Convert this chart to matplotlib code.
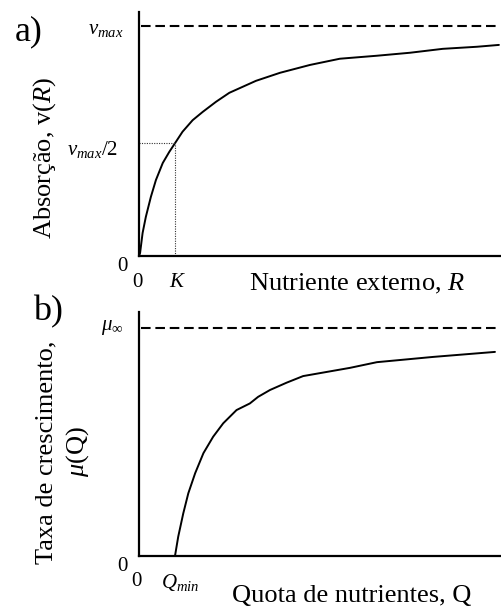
import numpy as np
import matplotlib
matplotlib.use("Agg")
import matplotlib.pyplot as plt

plt.rcParams['font.family'] = ['Liberation Serif', 'DejaVu Serif']
plt.rcParams['mathtext.fontset'] = 'custom'
plt.rcParams['mathtext.rm'] = 'Liberation Serif'
plt.rcParams['mathtext.it'] = 'Liberation Serif:italic'
plt.rcParams['mathtext.fallback'] = 'stix'

# a) uptake vs external nutrient (K = 1, vmax = 1)
R_vals = [0, 0.03, 0.10, 0.19, 0.33, 0.47, 0.66, 0.84, 1.0, 1.21, 1.49, 1.77,
          2.14, 2.51, 2.88, 3.25, 3.92, 4.75, 5.58, 6.61, 7.53, 8.44, 9.39, 10.0]
v_vals = [0, 0.013, 0.10, 0.17, 0.257, 0.33, 0.404, 0.452, 0.49, 0.54, 0.59, 0.626,
          0.67, 0.709, 0.735, 0.761, 0.796, 0.83, 0.857, 0.87, 0.883, 0.90, 0.909, 0.917]
K_val = 1.0
v_at_K = 0.49

# b) growth rate vs nutrient quota (Qmin = 1, mu_inf = 1)
Q_vals = [1.0, 1.09, 1.23, 1.37, 1.56, 1.79, 2.06, 2.34, 2.71, 3.08, 3.31, 3.64,
          4.10, 4.56, 5.86, 6.61, 8.17, 9.89]
mu_vals = [0, 0.085, 0.187, 0.275, 0.363, 0.451, 0.523, 0.582, 0.64, 0.669, 0.698, 0.728,
           0.76, 0.789, 0.825, 0.85, 0.873, 0.895]
Qmin_val = 1.0

W, H = 502, 610
fig = plt.figure(figsize=(W / 100, H / 100), dpi=100)

def px_ax(left, top, right, bottom):
    return fig.add_axes([left / W, 1 - bottom / H, (right - left) / W, (bottom - top) / H])

ax_a = px_ax(139, 12, 500, 256)
ax_b = px_ax(139, 312, 500, 556)

dash = (0, (4.6, 2.3))
for ax in (ax_a, ax_b):
    ax.set_xlim(0, 10.03)
    ax.set_xticks([])
    ax.set_yticks([])
    for s in ('top', 'right'):
        ax.spines[s].set_visible(False)
    for s in ('left', 'bottom'):
        ax.spines[s].set_linewidth(1.6)
        ax.spines[s].set_color('black')

ax_a.set_ylim(0, 1.06)
ax_b.set_ylim(0, 1.07)

# panel a
ax_a.plot(R_vals, v_vals, color='black', lw=1.4, solid_capstyle='round', solid_joinstyle='round')
ax_a.axhline(1.0, xmin=0.006, color='black', lw=1.5, ls=dash)
ax_a.plot([0, K_val], [v_at_K, v_at_K], color='#333333', lw=0.8, ls=(0, (1, 1.2)))
ax_a.plot([K_val, K_val], [0, v_at_K], color='#333333', lw=0.8, ls=(0, (1, 1.2)))

# panel b
ax_b.plot(Q_vals, mu_vals, color='black', lw=1.4, solid_capstyle='round', solid_joinstyle='round')
ax_b.axhline(1.0, xmin=0.006, color='black', lw=1.5, ls=dash)

fs_tick = 15
def lab(ax, s, x, y, dx, dy, ha, va, coords=('data', 'data')):
    ax.annotate(s, xy=(x, y), xycoords=coords, xytext=(dx, dy),
                textcoords='offset points', ha=ha, va=va, fontsize=fs_tick,
                annotation_clip=False)

yc = ('axes fraction', 'data')
lab(ax_a, r'$v_{max}$', 0, 1.0, -11.5, -5.8, 'right', 'baseline', yc)
lab(ax_a, r'$v_{max}$/2', 0, 0.5, -15, -10, 'right', 'baseline', yc)
lab(ax_a, '0', 0, 0, -8, -1, 'right', 'top', yc)
lab(ax_a, '0', 0, 0, -1, -12, 'center', 'top')
lab(ax_a, r'$K$', K_val, 0, 2, -12, 'center', 'top')

lab(ax_b, r'$\mu_{\infty}$', 0, 1.0, -11.5, 0, 'right', 'center', yc)
lab(ax_b, '0', 0, 0, -8, -1, 'right', 'top', yc)
lab(ax_b, '0', 0, 0, -1.5, -11.5, 'center', 'top')
lab(ax_b, r'$Q_{min}$', Qmin_val, 0, -10, -11.5, 'left', 'top')

fs_lab = 19
fig.text(357 / W, 1 - 290 / H, r'Nutriente externo, $R$', fontsize=fs_lab,
         ha='center', va='baseline')
fig.text(352 / W, 1 - 602 / H, 'Quota de nutrientes, Q', fontsize=fs_lab,
         ha='center', va='baseline')
fig.text(45 / W, 1 - 158 / H, r'Absorção, v($R$)', fontsize=fs_lab,
         rotation=90, ha='center', va='center')
fig.text(63 / W, 1 - 452 / H, 'Taxa de crescimento,\n' + r'$\mu$(Q)', fontsize=fs_lab,
         rotation=90, ha='center', va='center', multialignment='center', linespacing=1.35)

fig.text(15 / W, 1 - 40 / H, 'a)', fontsize=26, ha='left', va='baseline')
fig.text(33 / W, 1 - 320 / H, 'b)', fontsize=26, ha='left', va='baseline')

fig.savefig('out.png', dpi=100)
